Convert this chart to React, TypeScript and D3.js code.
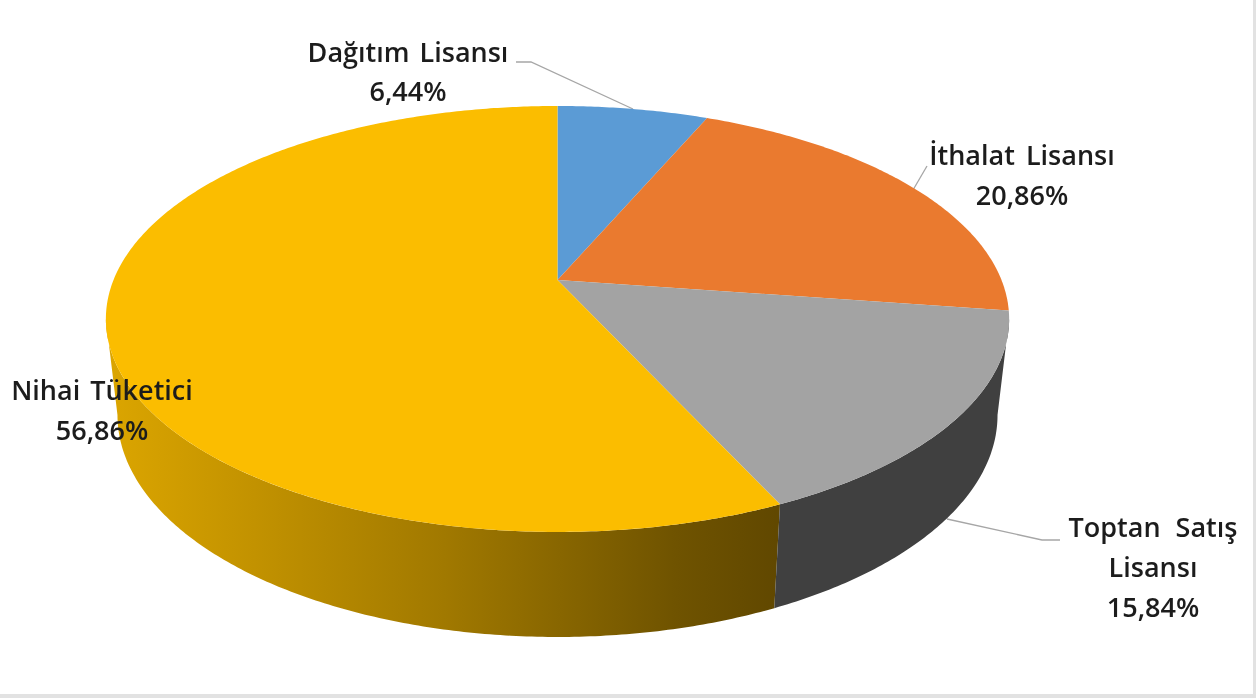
import React from "react";
import * as d3 from "d3";

const categories = ["Dağıtım Lisansı", "İthalat Lisansı", "Toptan Satış Lisansı", "Nihai Tüketici"];
const shares = [6.44, 20.86, 15.84, 56.86];
const shareLabels = ["6,44%", "20,86%", "15,84%", "56,86%"];
const sliceColors = ["#5B9BD5", "#EA7A2F", "#A3A3A3", "#FBBD00"];

const W = 1256;
const H = 698;
const CX = 557.5;
const PERSPECTIVE = -0.183;
const topDisc = { w: 444, a: 154.6, b: 280 };
const bottomDisc = { w: 432.6, a: 146, b: 374.4 };
const SILHOUETTE = Math.acos(-0.183);

type Disc = { w: number; a: number; b: number };
const project = (disc: Disc, theta: number): [number, number] => {
  const x = Math.sin(theta);
  const y = -Math.cos(theta);
  const d = 1 + PERSPECTIVE * y;
  return [CX + (disc.w * x) / d, (disc.a * y + disc.b) / d];
};
const sweep = (a0: number, a1: number) => {
  const n = Math.max(2, Math.ceil(Math.abs(a1 - a0) / 0.01));
  return d3.range(n + 1).map((i) => a0 + ((a1 - a0) * i) / n);
};
const line = d3.line<[number, number]>();

const arcs = d3.pie<number>().sort(null)(shares);
const apex: [number, number] = [CX, topDisc.b];
const slicePath = (a0: number, a1: number) =>
  line([apex, ...sweep(a0, a1).map((t) => project(topDisc, t))]) + "Z";
const wallPath = (a0: number, a1: number) =>
  line([
    ...sweep(a0, a1).map((t) => project(topDisc, t)),
    ...sweep(a1, a0).map((t) => project(bottomDisc, t)),
  ]) + "Z";

const boundary = arcs[2].endAngle;
const leftEdge = 2 * Math.PI - SILHOUETTE;

const labelLayout = [
  { x: 408, lines: [{ t: categories[0], y: 62, ws: 3 }, { t: shareLabels[0], y: 101, ws: 0 }] },
  { x: 1022, lines: [{ t: categories[1], y: 165, ws: 4 }, { t: shareLabels[1], y: 205, ws: 0 }] },
  {
    x: 1153,
    lines: [
      { t: "Toptan Satış", y: 537, ws: 8 },
      { t: "Lisansı", y: 577, ws: 0 },
      { t: shareLabels[2], y: 617, ws: 0 },
    ],
  },
  { x: 102, lines: [{ t: categories[3], y: 400, ws: 3 }, { t: shareLabels[3], y: 440, ws: 0 }] },
];

const leaders: [number, number][][] = [
  [[516, 62], [531, 62], [633, 109]],
  [[927, 166], [913, 190]],
  [[947, 519], [1042, 540], [1060, 540]],
];

export default function App() {
  return (
    <svg
      width={W}
      height={H}
      viewBox={`0 0 ${W} ${H}`}
      style={{ position: "fixed", left: 0, top: 0, display: "block", background: "#fff" }}
    >
      <defs>
        <linearGradient id="wallGrad" gradientUnits="userSpaceOnUse" x1={111} x2={776} y1={0} y2={0}>
          <stop offset="0" stopColor="#DBA500" />
          <stop offset="0.5" stopColor="#A17900" />
          <stop offset="0.85" stopColor="#6F5300" />
          <stop offset="1" stopColor="#614800" />
        </linearGradient>
        <filter id="soft" x="-5%" y="-20%" width="110%" height="140%">
          <feGaussianBlur stdDeviation="0.45" />
        </filter>
      </defs>

      <rect x={W - 3} y={0} width={3} height={H} fill="#E2E2E2" />
      <rect x={0} y={H - 4} width={W} height={4} fill="#E2E2E2" />

      <g fill="none" stroke="#A6A6A6" strokeWidth={1.3}>
        {leaders.map((pts, i) => (
          <path key={i} d={line(pts) ?? ""} />
        ))}
      </g>

      <path d={wallPath(boundary, leftEdge)} fill="url(#wallGrad)" />
      <path d={wallPath(SILHOUETTE, boundary)} fill="#404040" />

      {arcs.map((a, i) => (
        <path key={i} d={slicePath(a.startAngle, a.endAngle)} fill={sliceColors[i]} />
      ))}

      <g
        fontFamily="'Open Sans', Lato, sans-serif"
        fontWeight={600}
        fontSize={27}
        fill="#1C1C1C"
        textAnchor="middle"
        filter="url(#soft)"
      >
        {labelLayout.map((l, i) =>
          l.lines.map((ln, j) => (
            <text key={`${i}-${j}`} x={l.x} y={ln.y} wordSpacing={ln.ws}>
              {ln.t}
            </text>
          ))
        )}
      </g>
    </svg>
  );
}
